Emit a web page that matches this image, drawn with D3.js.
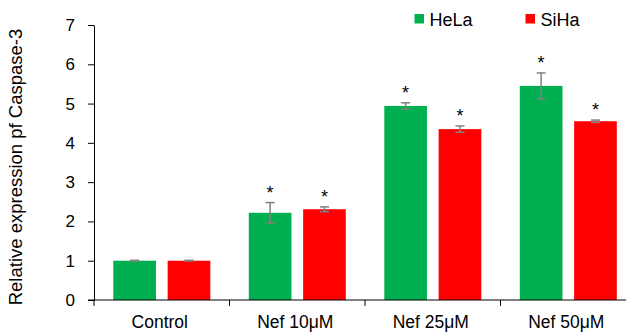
<!DOCTYPE html>
<html>
<head>
<meta charset="utf-8">
<script src="https://cdn.jsdelivr.net/npm/d3@7"></script>
<style>
  body { margin: 0; background: #fff; }
  svg { display: block; font-family: Arial, 'Liberation Sans', sans-serif; }
  .axis path, .axis line { stroke: #000; }
</style>
</head>
<body>
<svg id="chart" width="626" height="332"></svg>
<script>
// data
const categories = ['Control', 'Nef 10μM', 'Nef 25μM', 'Nef 50μM'];
const series = ['HeLa', 'SiHa'];
const helaValues = [1.0, 2.22, 4.94, 5.45];
const helaErrors = [0.01, 0.26, 0.08, 0.33];
const sihaValues = [1.0, 2.31, 4.35, 4.55];
const sihaErrors = [0.01, 0.06, 0.08, 0.03];
const significant = [false, true, true, true];
const yTicks = [0, 1, 2, 3, 4, 5, 6, 7];
const colors = { HeLa: '#00b050', SiHa: '#ff0000' };

const rows = [];
categories.forEach((c, i) => {
  rows.push({ cat: c, s: 'HeLa', v: helaValues[i], e: helaErrors[i], sig: significant[i] });
  rows.push({ cat: c, s: 'SiHa', v: sihaValues[i], e: sihaErrors[i], sig: significant[i] });
});

const svg = d3.select('#chart');

const x0 = d3.scaleBand().domain(categories).range([94, 636]).padding(0);
const x1 = d3.scaleBand().domain(series).range([19.3, 116.3]).paddingInner(0.215).paddingOuter(0);
const y = d3.scaleLinear().domain([0, 7]).range([300, 25]);

// y axis
const yAxis = svg.append('g')
  .attr('class', 'axis')
  .attr('transform', 'translate(94,0)')
  .call(d3.axisLeft(y).tickValues(yTicks).tickSize(6).tickPadding(13).tickSizeOuter(0).tickFormat(d3.format('d')));
yAxis.selectAll('text').attr('font-size', 17).attr('fill', '#000');

// bars
const g = svg.append('g');
const groups = g.selectAll('g').data(rows).join('g')
  .attr('transform', (d) => `translate(${x0(d.cat) + x1(d.s)},0)`);

groups.append('rect')
  .attr('y', (d) => y(d.v))
  .attr('width', x1.bandwidth())
  .attr('height', (d) => y(0) - y(d.v))
  .attr('fill', (d) => colors[d.s]);

// error bars
const bw = x1.bandwidth();
groups.append('line')
  .attr('x1', bw / 2).attr('x2', bw / 2)
  .attr('y1', (d) => y(d.v + d.e)).attr('y2', (d) => y(d.v - d.e))
  .attr('stroke', '#808080').attr('stroke-width', 1.5);
groups.append('line')
  .attr('x1', bw / 2 - 4.5).attr('x2', bw / 2 + 4.5)
  .attr('y1', (d) => y(d.v + d.e)).attr('y2', (d) => y(d.v + d.e))
  .attr('stroke', '#808080').attr('stroke-width', 1.5);
groups.append('line')
  .attr('x1', bw / 2 - 4.5).attr('x2', bw / 2 + 4.5)
  .attr('y1', (d) => y(d.v - d.e)).attr('y2', (d) => y(d.v - d.e))
  .attr('stroke', '#808080').attr('stroke-width', 1.5);

// stars
groups.filter((d) => d.sig).append('text')
  .attr('x', bw / 2)
  .attr('y', (d) => y(d.v + d.e) - 4)
  .attr('text-anchor', 'middle')
  .attr('font-size', 18)
  .text('*');

// x axis
const xAxis = svg.append('g')
  .attr('class', 'axis')
  .attr('transform', 'translate(0,300)');
xAxis.append('line').attr('x1', 88).attr('x2', 636).attr('y1', 0).attr('y2', 0).attr('stroke', '#000');
xAxis.selectAll('.tk').data(categories).join('line')
  .attr('class', 'tk')
  .attr('x1', (d) => x0(d)).attr('x2', (d) => x0(d))
  .attr('y1', 0).attr('y2', 6).attr('stroke', '#000');
xAxis.selectAll('text').data(categories).join('text')
  .attr('x', (d) => x0(d) + x0.bandwidth() / 2 - 2)
  .attr('y', 27.5)
  .attr('text-anchor', 'middle')
  .attr('font-size', 17.5)
  .text((d) => d);

// y title
svg.append('text')
  .attr('transform', 'translate(22,167) rotate(-90)')
  .attr('text-anchor', 'middle')
  .attr('font-size', 18.5)
  .text('Relative expression pf Caspase-3');

// legend
const legendX = [414.5, 525.5];
const legend = svg.selectAll('.leg').data(series).join('g')
  .attr('class', 'leg')
  .attr('transform', (d, i) => `translate(${legendX[i]},14)`);
legend.append('rect').attr('width', 9.5).attr('height', 9.5).attr('fill', (d) => colors[d]);
legend.append('text').attr('x', 15).attr('y', 12.3).attr('font-size', 18).text((d) => d);
</script>
</body>
</html>
